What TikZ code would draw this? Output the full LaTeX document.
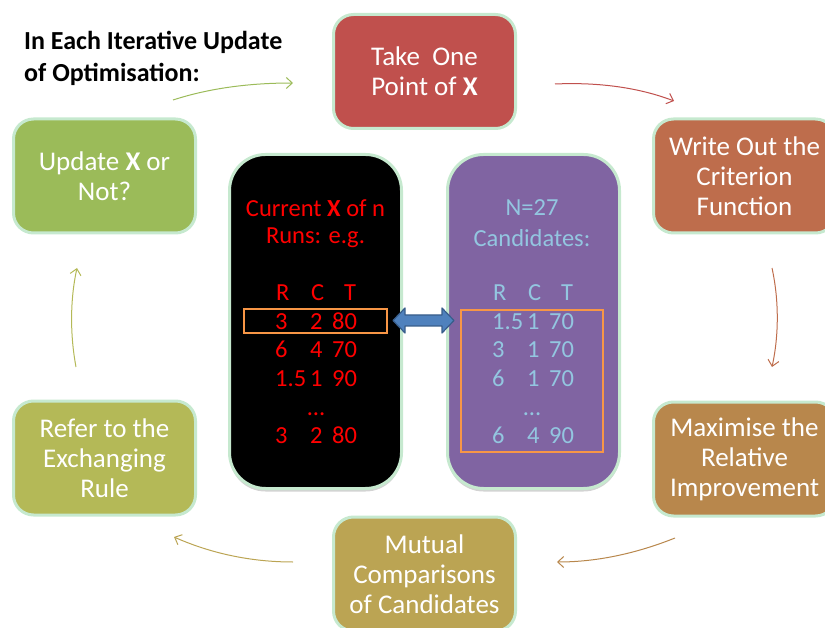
\documentclass[tikz,border=0pt]{standalone}
\usepackage{fontspec}
\setmainfont{Carlito}
\usetikzlibrary{arrows.meta,shadows}
\definecolor{bgreen}{HTML}{C6E9CF}
\definecolor{cTake}{HTML}{C0504D}
\definecolor{cWrite}{HTML}{BE6D4C}
\definecolor{cMax}{HTML}{B8874C}
\definecolor{cMut}{HTML}{BBA453}
\definecolor{cRef}{HTML}{B4B957}
\definecolor{cUpd}{HTML}{9BBB59}
\definecolor{cPurple}{HTML}{8064A2}
\definecolor{cLblue}{HTML}{93C6E0}
\definecolor{cOrange}{HTML}{F79646}
\definecolor{cBlue}{HTML}{4F81BD}
\definecolor{cBlueD}{HTML}{385D8A}
\tikzset{
  stepbox/.style={rectangle, rounded corners=20pt, draw=bgreen, line width=3pt,
    minimum width=182pt, minimum height=114pt, text=white, align=center,
    inner sep=0pt, font=\fontsize{27}{30}\selectfont},
  panel/.style={rectangle, rounded corners=36pt, draw=bgreen, line width=3pt,
    minimum width=172pt, minimum height=334pt, inner sep=0pt,
    drop shadow={shadow xshift=0pt, shadow yshift=-3pt, opacity=.35, fill=gray}},
  ptext/.style={font=\fontsize{24.5}{29}\selectfont, inner sep=0pt},
  orangebox/.style={draw=cOrange, line width=2pt},
  flow/.style={line width=1pt, -{Straight Barb[length=6pt,width=11pt]}},
  swaparrow/.style={fill=cBlue, draw=cBlueD, line width=1.2pt, line join=round},
}
\newcommand{\rowA}[3]{\makebox[35pt][l]{#1}\makebox[22pt][l]{#2}#3}
\newcommand{\rowH}[3]{\makebox[35pt][l]{#1}\makebox[33pt][l]{#2}#3}
\begin{document}
\begin{tikzpicture}[x=1pt,y=-1pt]
\useasboundingbox (0,0) rectangle (825,628);
\clip (0,0) rectangle (825,628);

% title
\node[font=\fontsize{26}{32}\selectfont\bfseries, anchor=base west, inner sep=0pt] (title1) at (24,50) {In Each Iterative Update};
\node[font=\fontsize{26}{32}\selectfont\bfseries, anchor=base west, inner sep=0pt] (title2) at (24,82) {of Optimisation:};

% cycle boxes
\node[stepbox, fill=cTake]  (take)  at (424.5,71.5) {Take\ \ One\\Point of \textbf{X}};
\node[stepbox, fill=cWrite] (write) at (744.5,176)  {Write Out the\\Criterion\\Function};
\node[stepbox, fill=cMax]   (maxi)  at (744.5,459)  {Maximise the\\Relative\\Improvement};
\node[stepbox, fill=cMut]   (mutual) at (424.5,574) {Mutual\\Comparisons\\of Candidates};
\node[stepbox, fill=cRef]   (refer) at (104.5,458)  {Refer to the\\Exchanging\\Rule};
\node[stepbox, fill=cUpd]   (update) at (104.5,176) {Update \textbf{X} or\\Not?};

% panels
\node[panel, fill=black]   (cur)  at (315.5,321.5) {};
\node[panel, fill=cPurple] (cand) at (533.5,321.5) {};

% black panel text
\begin{scope}[every node/.style={ptext, text=red}]
\node (curA) at (315.5,208) {Current \textbf{X} of n};
\node (curB) at (315.5,238) {Runs: e.g.};
\node[anchor=base west] (curH) at (276,301) {\rowH{R}{C}{T}};
\node[anchor=base west] (cur1) at (275,329.5) {\rowA{3}{2}{80}};
\node[anchor=base west] (cur2) at (275,358) {\rowA{6}{4}{70}};
\node[anchor=base west] (cur3) at (275,386.5) {\rowA{1.5}{1}{90}};
\node[anchor=base] (curD) at (316,415) {…};
\node[anchor=base west] (cur4) at (275,443.5) {\rowA{3}{2}{80}};
\end{scope}

% purple panel text
\begin{scope}[every node/.style={ptext, text=cLblue}]
\node (candA) at (532,208) {N=27};
\node (candB) at (532,238) {Candidates:};
\node[anchor=base west] (candH) at (493,301) {\rowH{R}{C}{T}};
\node[anchor=base west] (cand1) at (492,329.5) {\rowA{1.5}{1}{70}};
\node[anchor=base west] (cand2) at (492,358) {\rowA{3}{1}{70}};
\node[anchor=base west] (cand3) at (492,386.5) {\rowA{6}{1}{70}};
\node[anchor=base] (candD) at (532,415) {…};
\node[anchor=base west] (cand4) at (492,443.5) {\rowA{6}{4}{90}};
\end{scope}

% orange highlight boxes
\draw[orangebox] (244,309) rectangle (387,333);
\draw[orangebox] (461,310) rectangle (603,452);

% double arrow
\draw[swaparrow] (393,320.5) -- (405,308) -- (405,315) -- (442,315) -- (442,308)
  -- (454,320.5) -- (442,333) -- (442,326) -- (405,326) -- (405,333) -- cycle;

% flow arrows
\coordinate (a1s) at (173,100); \coordinate (a1e) at (293,83);
\coordinate (a2s) at (555,84);  \coordinate (a2e) at (674,101);
\coordinate (a3s) at (772,268); \coordinate (a3e) at (772,367);
\coordinate (a4s) at (675,538); \coordinate (a4e) at (557,562);
\coordinate (a5s) at (293,562); \coordinate (a5e) at (174,537);
\coordinate (a6s) at (76,367);  \coordinate (a6e) at (77,268);
\draw[flow, cUpd]   (a1s) .. controls (210,88) and (250,83) .. (a1e);
\draw[flow, cTake]  (a2s) .. controls (600,82) and (640,88) .. (a2e);
\draw[flow, cWrite] (a3s) .. controls (779,300) and (779,335) .. (a3e);
\draw[flow, cMax]   (a4s) .. controls (640,552) and (600,562) .. (a4e);
\draw[flow, cMut]   (a5s) .. controls (250,562) and (210,553) .. (a5e);
\draw[flow, cRef]   (a6s) .. controls (70,335) and (70,300) .. (a6e);
\end{tikzpicture}
\end{document}
